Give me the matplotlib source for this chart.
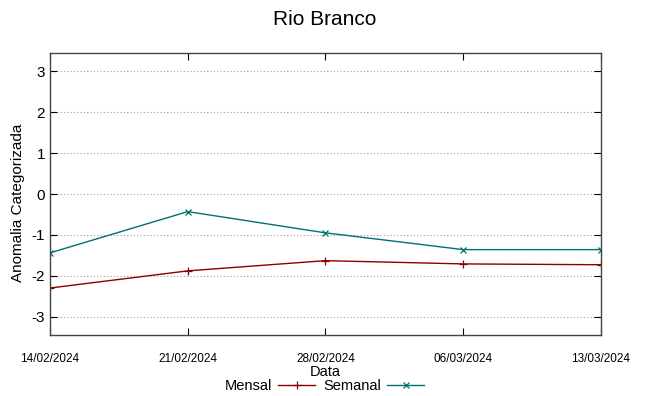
import pandas as pd
import matplotlib
matplotlib.use("Agg")
import matplotlib.pyplot as plt
import matplotlib.dates as mdates

plt.rcParams["font.family"] = ["Liberation Sans", "DejaVu Sans"]
plt.rcParams["axes.unicode_minus"] = False

# Data
datas = ["14/02/2024", "21/02/2024", "28/02/2024", "06/03/2024", "13/03/2024"]
mensal = [-2.30, -1.88, -1.63, -1.71, -1.73]
semanal = [-1.44, -0.43, -0.95, -1.36, -1.36]

x = pd.to_datetime(datas, format="%d/%m/%Y")

fig = plt.figure(figsize=(6.49, 3.96), dpi=100)
ax = fig.add_axes([0.077, 0.154, 0.849, 0.712])

ax.plot(x, mensal, color="#8b0000", lw=1.0, marker="+", ms=6, mew=0.9, label="Mensal")
ax.plot(x, semanal, color="#007070", lw=1.0, marker="x", ms=4.5, mew=0.9, label="Semanal")

ax.set_xlim(x[0], x[-1])
ax.set_ylim(-3.45, 3.45)
ax.set_yticks([-3, -2, -1, 0, 1, 2, 3])
ax.set_xticks(x)
ax.xaxis.set_major_formatter(mdates.DateFormatter("%d/%m/%Y"))
ax.grid(axis="y", color="#a0a0a0", linestyle=(0, (1, 2)), lw=0.8)

ax.tick_params(axis="x", direction="in", top=True, labelsize=8.5, pad=13, length=5)
ax.tick_params(axis="y", direction="in", right=True, labelsize=11, length=5)
for s in ax.spines.values():
    s.set_color("#444444")
    s.set_linewidth(1)

ax.set_xlabel("Data", fontsize=10.5, labelpad=0)
ax.set_ylabel("Anomalia Categorizada", fontsize=11)
ax.yaxis.set_label_coords(-0.045, 0.47)
fig.suptitle("Rio Branco", fontsize=15, y=0.975)

fig.legend(loc="center", bbox_to_anchor=(0.5, 0.025), ncol=2, frameon=False,
           markerfirst=False, fontsize=10.5, handlelength=2.5, columnspacing=0.6,
           handletextpad=0.4, borderpad=0)

fig.savefig("out.png", dpi=100)
